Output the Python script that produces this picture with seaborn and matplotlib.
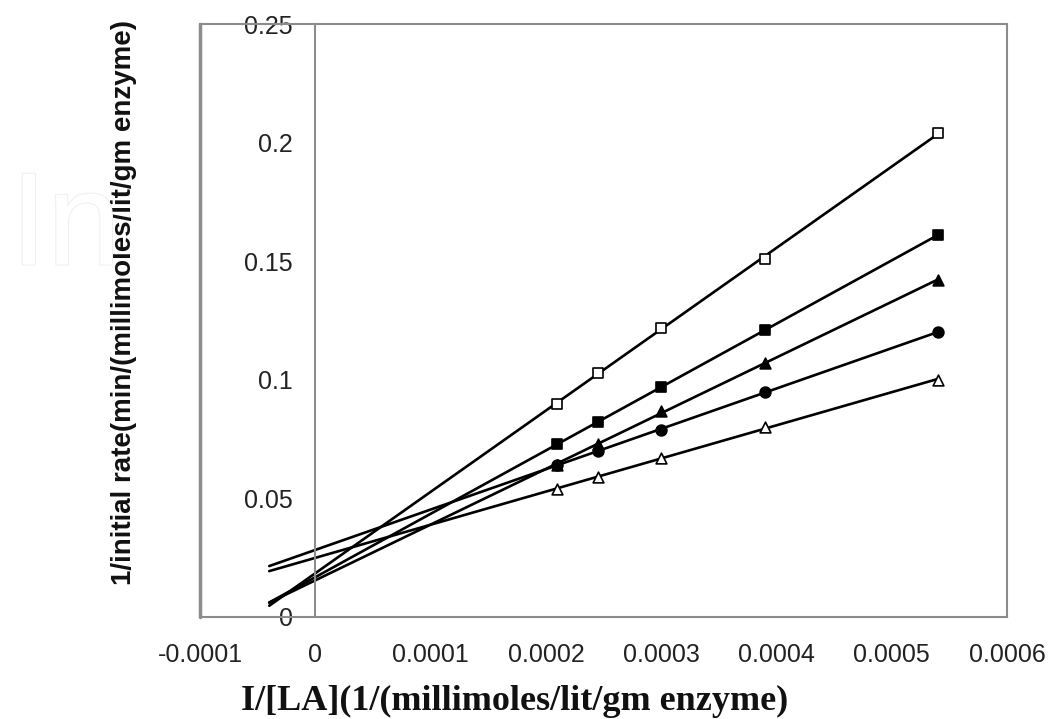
#!/usr/bin/env python3
"""Lineweaver-Burk plot for LA at several inhibitor levels."""

import matplotlib as mpl
import matplotlib.patheffects as pe
import matplotlib.pyplot as plt
import numpy as np
import pandas as pd
import seaborn as sns

mpl.use('Agg')
sns.set_theme(style="white")
plt.rcParams['font.family'] = ['Liberation Sans', 'DejaVu Sans']

# Reciprocal substrate concentration (shared by all series)
INV_LA = [0.00021, 0.000245, 0.0003, 0.00039, 0.00054]

# Reciprocal initial rates, one list per series
OPEN_SQUARE = [0.090, 0.103, 0.122, 0.151, 0.204]
FILLED_SQUARE = [0.073, 0.082, 0.097, 0.121, 0.161]
FILLED_TRIANGLE = [0.064, 0.073, 0.087, 0.107, 0.142]
FILLED_CIRCLE = [0.064, 0.070, 0.079, 0.095, 0.120]
OPEN_TRIANGLE = [0.054, 0.059, 0.067, 0.080, 0.100]

SERIES = ["s1", "s2", "s3", "s4", "s5"]
VALUES = [OPEN_SQUARE, FILLED_SQUARE, FILLED_TRIANGLE, FILLED_CIRCLE, OPEN_TRIANGLE]
MARKERS = {"s1": "s", "s2": "s", "s3": "^", "s4": "o", "s5": "^"}
FACES = {"s1": "white", "s2": "black", "s3": "black", "s4": "black", "s5": "white"}

X_TICKS = [-0.0001, 0, 0.0001, 0.0002, 0.0003, 0.0004, 0.0005, 0.0006]
Y_TICKS = [0, 0.05, 0.1, 0.15, 0.2, 0.25]
X_LABEL = "I/[LA](1/(millimoles/lit/gm enzyme)"
Y_LABEL = "1/initial rate(min/(millimoles/lit/gm enzyme)"

# Backward forecast of the linear trendlines
FORECAST_START = -0.00004


def build_frames():
    """Long-form points and fitted trendlines."""
    points = pd.DataFrame({
        "x": np.tile(INV_LA, len(SERIES)),
        "y": np.concatenate(VALUES),
        "series": np.repeat(SERIES, len(INV_LA)),
    })
    fits = []
    for name, grp in points.groupby("series"):
        slope, icpt = np.polyfit(grp["x"], grp["y"], 1)
        xs = np.array([FORECAST_START, max(INV_LA)])
        fits.append(pd.DataFrame({"x": xs, "y": slope * xs + icpt, "series": name}))
    return points, pd.concat(fits)


def main():
    points, fits = build_frames()

    fig = plt.figure(figsize=(10.53, 7.19), dpi=100)
    ax = fig.add_axes([0.19, 0.1419, 0.7663, 0.8247])

    # Trendlines, then markers on top
    sns.lineplot(data=fits, x="x", y="y", units="series", estimator=None,
                 color="black", lw=1.9, ax=ax, legend=False)
    for name in SERIES:
        sub = points[points["series"] == name]
        sns.scatterplot(data=sub, x="x", y="y", marker=MARKERS[name],
                        s=60, color=FACES[name], edgecolor="black",
                        linewidth=1.2, ax=ax, legend=False, zorder=3)

    # Axes: Excel-like frame with the value axis crossing at zero
    ax.set_xlim(X_TICKS[0], X_TICKS[-1])
    ax.set_ylim(Y_TICKS[0], Y_TICKS[-1])
    for side in ["top", "right", "bottom", "left"]:
        ax.spines[side].set_color("#8c8c8c")
        ax.spines[side].set_linewidth(1.5)
    ax.spines["left"].set_position(("data", 0))
    ax.axvline(X_TICKS[0], color="#8c8c8c", lw=2.5, clip_on=False)

    ax.set_xticks(X_TICKS)
    ax.set_xticklabels([f"{v:g}" for v in X_TICKS])
    ax.set_yticks(Y_TICKS)
    ax.set_yticklabels([f"{v:g}" for v in Y_TICKS])
    ax.tick_params(axis="x", direction="out", length=4, width=1.2,
                   color="#8c8c8c", pad=15, labelsize=18, labelcolor="#222222")
    ax.tick_params(axis="y", direction="out", length=5, width=1.2,
                   color="#8c8c8c", pad=11, labelsize=18, labelcolor="#222222")
    ax.grid(False)

    ax.set_xlabel(X_LABEL, family=["Liberation Serif", "DejaVu Serif"],
                  fontweight="bold", fontsize=26, color="#111111")
    ax.xaxis.set_label_coords(0.39, -0.115)
    ax.set_ylabel(Y_LABEL, fontweight="bold", fontsize=20, color="#111111")
    ax.yaxis.set_label_coords(-0.078, 0.531)

    # Faint publisher watermark
    fig.text(0.01, 0.68, "In", fontsize=95, color="white", va="center",
             path_effects=[pe.withStroke(linewidth=1.5, foreground="#efefef")])

    fig.savefig("out.png", dpi=100)
    plt.close(fig)


if __name__ == '__main__':
    main()
